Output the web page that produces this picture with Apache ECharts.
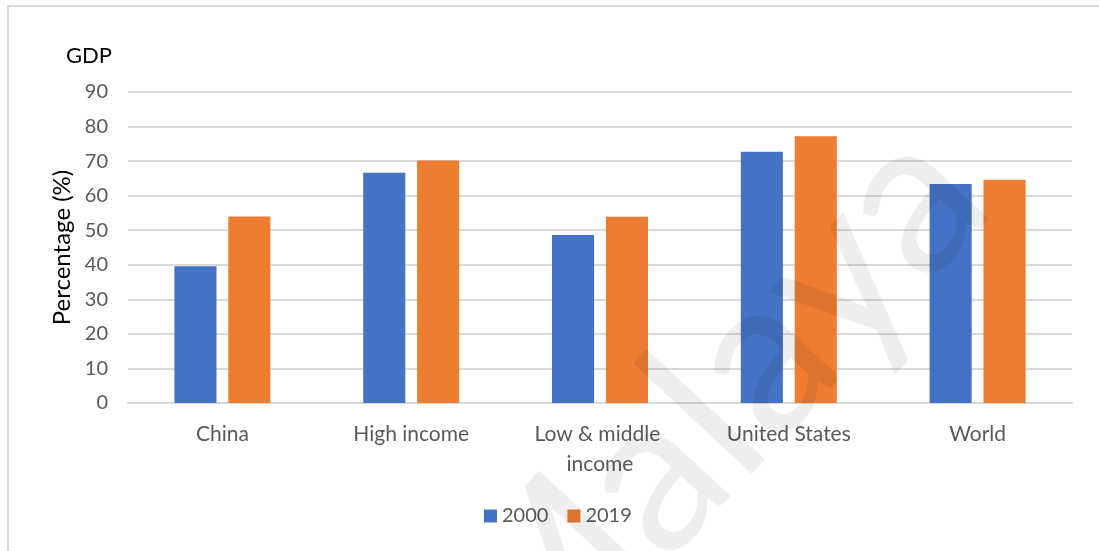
<!DOCTYPE html>
<html>
<head>
<meta charset="utf-8">
<script src="https://cdn.jsdelivr.net/npm/echarts@6/dist/echarts.min.js"></script>
<style>
  html, body { margin: 0; padding: 0; background: #fff; }
  #chart { width: 1099px; height: 551px; }
</style>
</head>
<body>
<div id="chart"></div>
<script>
// Categories and series values (% of GDP)
const categories = ['China', 'High income', 'Low & middle income', 'United States', 'World'];
const values2000 = [39.6, 66.6, 48.6, 72.7, 63.4];
const values2019 = [54.0, 70.2, 53.9, 77.2, 64.6];
const seriesNames = ['2000', '2019'];
const yTicks = { min: 0, max: 90, step: 10 };

const FONT = 'Lato, "Open Sans", sans-serif';
const chart = echarts.init(document.getElementById('chart'), null, { renderer: 'canvas' });

chart.setOption({
  backgroundColor: '#ffffff',
  animation: false,
  textStyle: { fontFamily: FONT },
  grid: { left: 128, right: 27, top: 92, bottom: 148, containLabel: false },
  legend: {
    data: seriesNames,
    bottom: 20,
    left: 479,
    icon: 'rect',
    itemWidth: 13,
    itemHeight: 13,
    itemGap: 19,
    textStyle: { color: '#595959', fontSize: 20, fontFamily: FONT }
  },
  xAxis: {
    type: 'category',
    data: categories,
    axisLine: { show: true, lineStyle: { color: '#d9d9d9', width: 2 } },
    axisTick: { show: false },
    axisLabel: {
      color: '#595959', fontSize: 21, fontFamily: FONT,
      margin: 16, lineHeight: 30, width: 160, overflow: 'break', interval: 0
    }
  },
  yAxis: {
    type: 'value',
    min: yTicks.min, max: yTicks.max, interval: yTicks.step,
    name: 'Percentage (%)',
    nameLocation: 'middle',
    nameGap: 54,
    nameTextStyle: { color: '#000', fontSize: 24, fontFamily: FONT },
    axisLine: { show: false },
    axisTick: { show: false },
    axisLabel: { color: '#595959', fontSize: 20, fontFamily: FONT, margin: 20 },
    splitLine: { lineStyle: { color: '#d9d9d9', width: 2 } }
  },
  series: [
    {
      name: seriesNames[0], type: 'bar', data: values2000,
      barWidth: '22.3%', barGap: '28%',
      itemStyle: { color: '#4472C4' }
    },
    {
      name: seriesNames[1], type: 'bar', data: values2019,
      barWidth: '22.3%', barGap: '28%',
      itemStyle: { color: '#ED7D31' }
    }
  ],
  graphic: [
    {
      type: 'rect', silent: true, z: 0,
      shape: { x: 8, y: 6, width: 1200, height: 700 },
      style: { fill: 'none', stroke: '#d9d9d9', lineWidth: 2 }
    },
    {
      type: 'text', left: 66, top: 45, z: 10,
      style: { text: 'GDP', fill: '#000', fontSize: 22, fontFamily: FONT }
    },
    {
      type: 'text', silent: true, z: 100,
      x: 712, y: 412,
      rotation: 47 * Math.PI / 180,
      style: {
        text: 'Malaya', x: 0, y: 0,
        align: 'center', verticalAlign: 'middle',
        fill: 'rgba(0,0,0,0.065)', fontSize: 220, fontFamily: FONT
      }
    }
  ]
});
</script>
</body>
</html>
